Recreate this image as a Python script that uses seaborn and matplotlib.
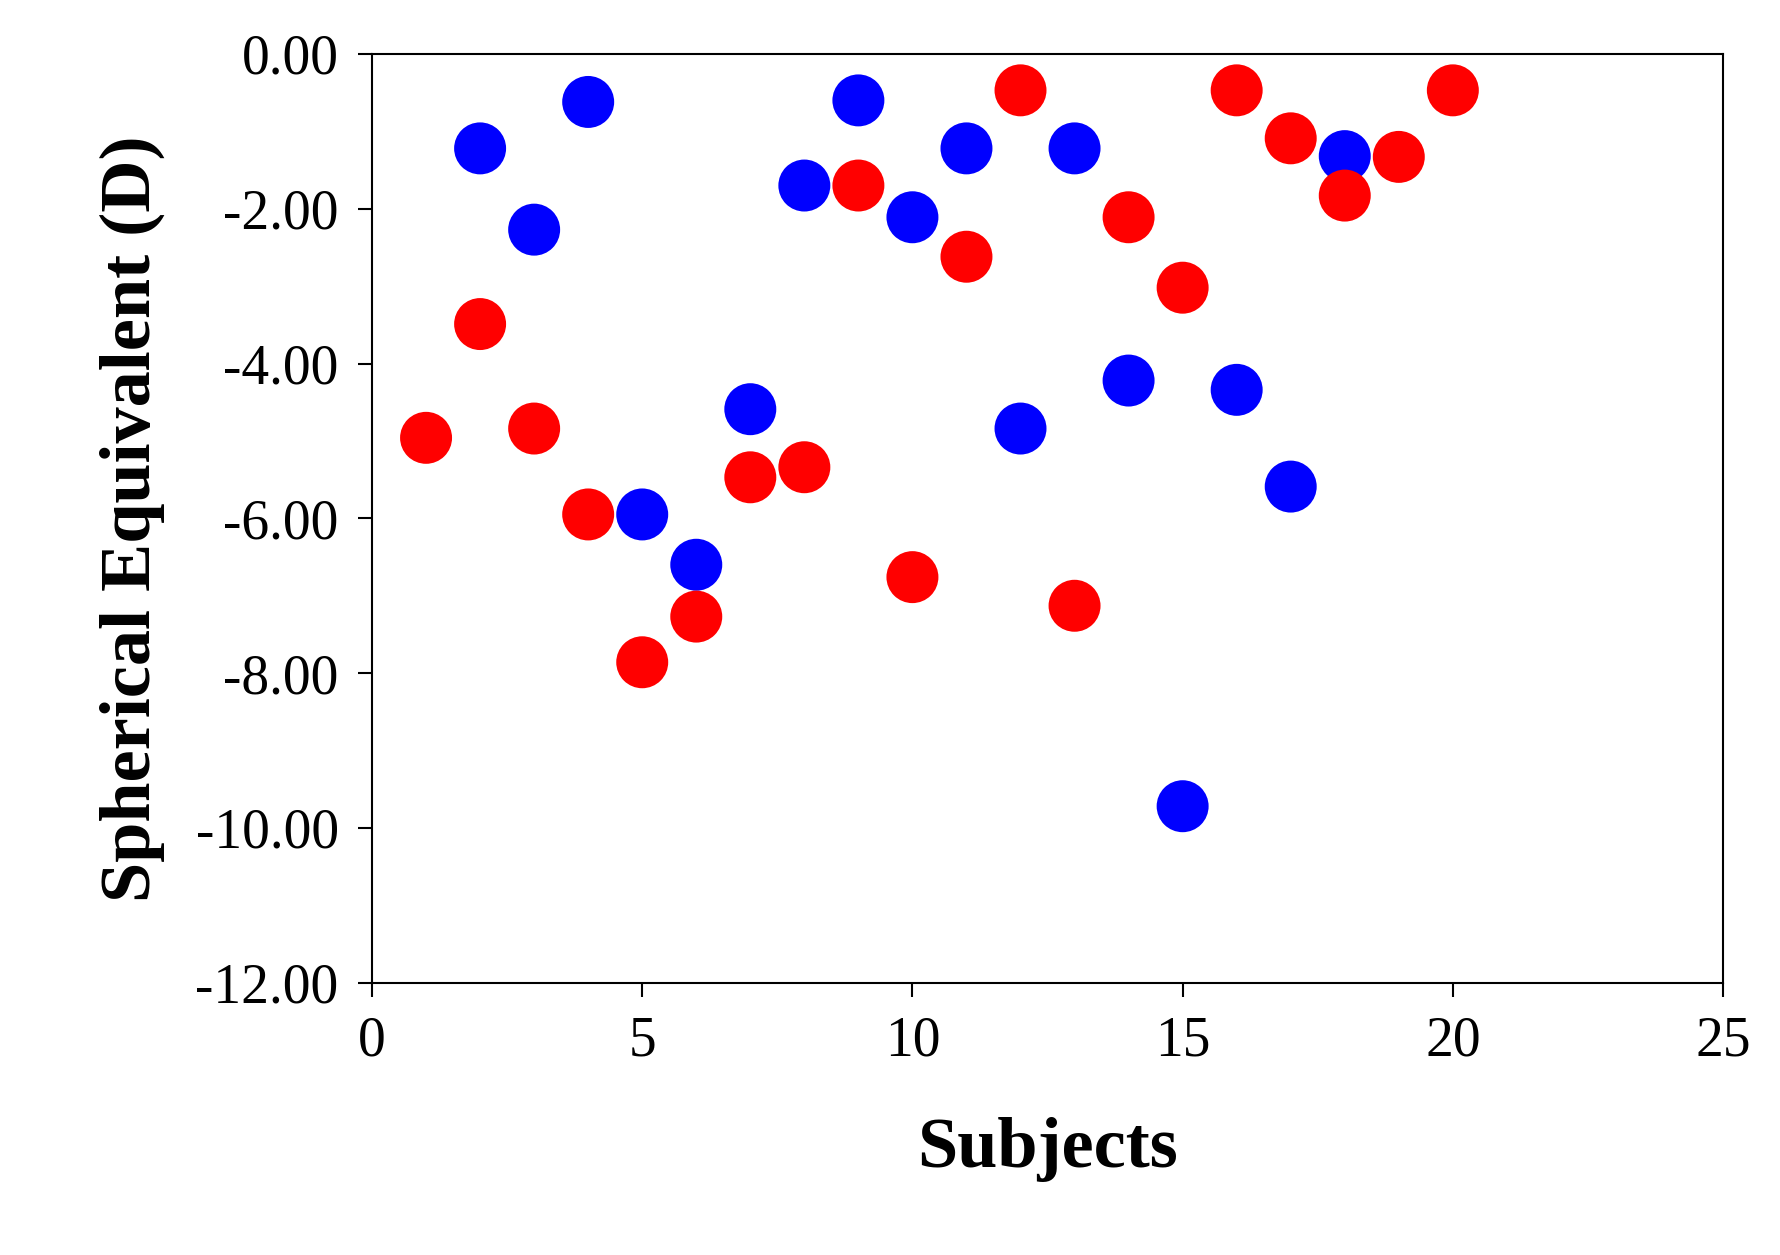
import numpy as np
import pandas as pd
import matplotlib
matplotlib.use("Agg")
import matplotlib.pyplot as plt
import seaborn as sns

red_x = [1, 2, 3, 4, 5, 6, 7, 8, 9, 10, 11, 12, 13, 14, 15, 16, 17, 18, 19, 20]
red_y = [-4.96, -3.49, -4.84, -5.95, -7.86, -7.27, -5.47, -5.34, -1.70, -6.76,
         -2.62, -0.47, -7.13, -2.11, -3.02, -0.47, -1.09, -1.83, -1.33, -0.47]
blue_x = [2, 3, 4, 5, 6, 7, 8, 9, 10, 11, 12, 13, 14, 15, 16, 17, 18]
blue_y = [-1.22, -2.27, -0.62, -5.95, -6.60, -4.59, -1.70, -0.60, -2.11, -1.22,
          -4.84, -1.22, -4.22, -9.72, -4.34, -5.59, -1.32]

sns.set_style("white")
plt.rcParams['font.family'] = ['Liberation Serif', 'DejaVu Serif']

fig = plt.figure(figsize=(17.8, 12.55), dpi=100)
ax = fig.add_axes([0.209, 0.217, 0.759, 0.74])

sns.scatterplot(x=blue_x, y=blue_y, color="#0000ff", s=1400, edgecolor="none", ax=ax)
sns.scatterplot(x=red_x, y=red_y, color="#ff0000", s=1400, edgecolor="none", ax=ax)

ax.set_xlim(0, 25)
ax.set_ylim(-12, 0)
ax.set_xticks([0, 5, 10, 15, 20, 25])
ax.set_yticks(np.arange(-12, 0.1, 2))
ax.set_yticklabels([f"{v:.2f}" for v in np.arange(-12, 0.1, 2)])
ax.tick_params(axis='both', labelsize=40, direction='out', length=10, width=1.5,
               bottom=True, left=True, colors='black', pad=14)
for sp in ax.spines.values():
    sp.set_color('black')
    sp.set_linewidth(1.5)
ax.set_xlabel("Subjects", fontsize=52, fontweight='bold', labelpad=35, color='black')
ax.set_ylabel("Spherical Equivalent (D)", fontsize=52, fontweight='bold', labelpad=22, color='black')

fig.savefig("out.png", dpi=100)
